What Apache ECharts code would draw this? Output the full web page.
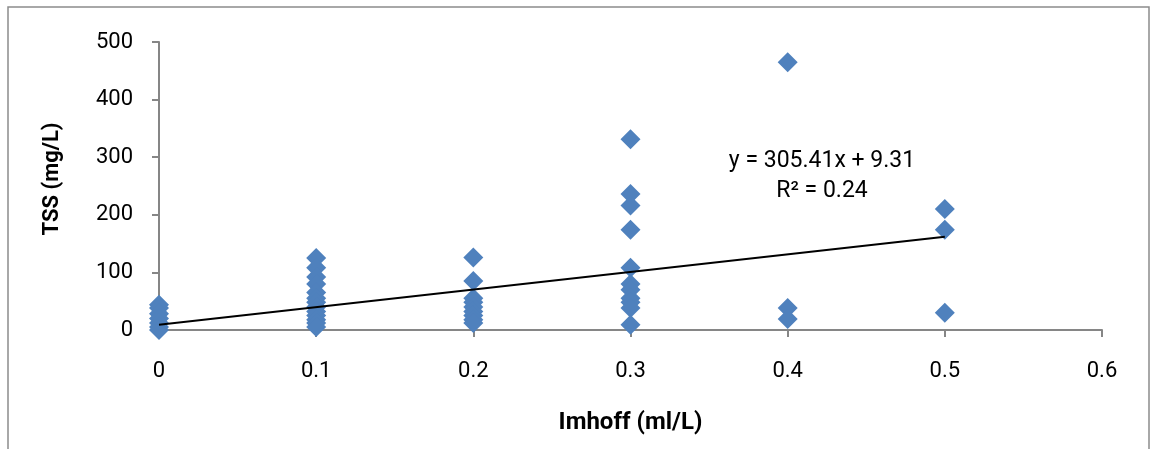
<!DOCTYPE html>
<html>
<head>
<meta charset="utf-8">
<script src="https://cdn.jsdelivr.net/npm/echarts@6/dist/echarts.min.js"></script>
<style>
html,body{margin:0;padding:0;background:#fff;}
#chart{width:1151px;height:449px;}
</style>
</head>
<body>
<div id="chart"></div>
<script>
// Imhoff (ml/L) values and TSS (mg/L) values
const imhoff0 = [0, 0, 0, 0, 0, 0, 0];
const tss0    = [44, 38, 28, 20, 12, 5, 0];
const imhoff1 = [0.1, 0.1, 0.1, 0.1, 0.1, 0.1, 0.1, 0.1, 0.1, 0.1, 0.1, 0.1, 0.1];
const tss1    = [125, 108, 92, 80, 65, 55, 48, 40, 32, 25, 18, 12, 5];
const imhoff2 = [0.2, 0.2, 0.2, 0.2, 0.2, 0.2, 0.2, 0.2, 0.2];
const tss2    = [126, 85, 55, 48, 40, 32, 25, 18, 12];
const imhoff3 = [0.3, 0.3, 0.3, 0.3, 0.3, 0.3, 0.3, 0.3, 0.3, 0.3, 0.3];
const tss3    = [331, 236, 216, 174, 108, 80, 70, 55, 48, 38, 9];
const imhoff4 = [0.4, 0.4, 0.4];
const tss4    = [465, 38, 19];
const imhoff5 = [0.5, 0.5, 0.5];
const tss5    = [210, 174, 30];

// trend line as printed on the chart
const slope = 305.41;
const intercept = 9.31;
const trendX = [0, 0.5];
const equationText = 'y = 305.41x + 9.31';
const r2Text = 'R² = 0.24';

const xTicks = ['0', '0.1', '0.2', '0.3', '0.4', '0.5', '0.6'];
const yTicks = ['0', '100', '200', '300', '400', '500'];

const allX = [].concat(imhoff0, imhoff1, imhoff2, imhoff3, imhoff4, imhoff5);
const allY = [].concat(tss0, tss1, tss2, tss3, tss4, tss5);
const points = allX.map((x, i) => [x, allY[i]]);
const trend = trendX.map(x => [x, slope * x + intercept]);

const FONT = 'Roboto, "Liberation Sans", Arial, sans-serif';
const AXIS = '#868686';

const chart = echarts.init(document.getElementById('chart'), null, {renderer: 'canvas'});
chart.setOption({
  animation: false,
  backgroundColor: '#ffffff',
  grid: {left: 159, right: 49, top: 42, bottom: 119},
  graphic: [
    {type: 'rect', shape: {x: 8, y: 7, width: 1141, height: 460},
     style: {fill: 'none', stroke: '#8c8c8c', lineWidth: 1.5}, silent: true, z: -1},
    {type: 'text', x: 822, y: 161,
     style: {text: equationText, font: '23px ' + FONT, fill: '#000', align: 'center', verticalAlign: 'middle'}},
    {type: 'text', x: 822, y: 191,
     style: {text: r2Text, font: '23px ' + FONT, fill: '#000', align: 'center', verticalAlign: 'middle'}},
    {type: 'text', x: 52, y: 179, rotation: Math.PI / 2,
     style: {text: 'TSS (mg/L)', font: 'bold 22px ' + FONT, fill: '#000', align: 'center', verticalAlign: 'middle'}}
  ],
  xAxis: {
    type: 'value', min: 0, max: 0.6, interval: 0.1,
    name: 'Imhoff (ml/L)', nameLocation: 'middle', nameGap: 81,
    nameTextStyle: {fontFamily: FONT, fontSize: 24, fontWeight: 'bold', color: '#000'},
    axisLine: {show: true, lineStyle: {color: AXIS, width: 2}},
    axisTick: {show: true, length: 7, inside: false, lineStyle: {color: AXIS, width: 2}},
    splitLine: {show: false},
    axisLabel: {fontFamily: FONT, fontSize: 22, color: '#000', margin: 30,
      formatter: v => xTicks[Math.round(v * 10)]}
  },
  yAxis: {
    type: 'value', min: 0, max: 500, interval: 100,
    axisLine: {show: true, lineStyle: {color: AXIS, width: 2}},
    axisTick: {show: true, length: 7, lineStyle: {color: AXIS, width: 2}},
    splitLine: {show: false},
    axisLabel: {fontFamily: FONT, fontSize: 22, color: '#000', margin: 26,
      formatter: v => yTicks[Math.round(v / 100)]}
  },
  series: [
    {type: 'scatter', data: points, symbol: 'diamond', symbolSize: [20, 20],
     itemStyle: {color: '#4F81BD', opacity: 1}, z: 2},
    {type: 'line', data: trend, symbol: 'none', lineStyle: {color: '#000', width: 2}, z: 3}
  ]
});
</script>
</body>
</html>
